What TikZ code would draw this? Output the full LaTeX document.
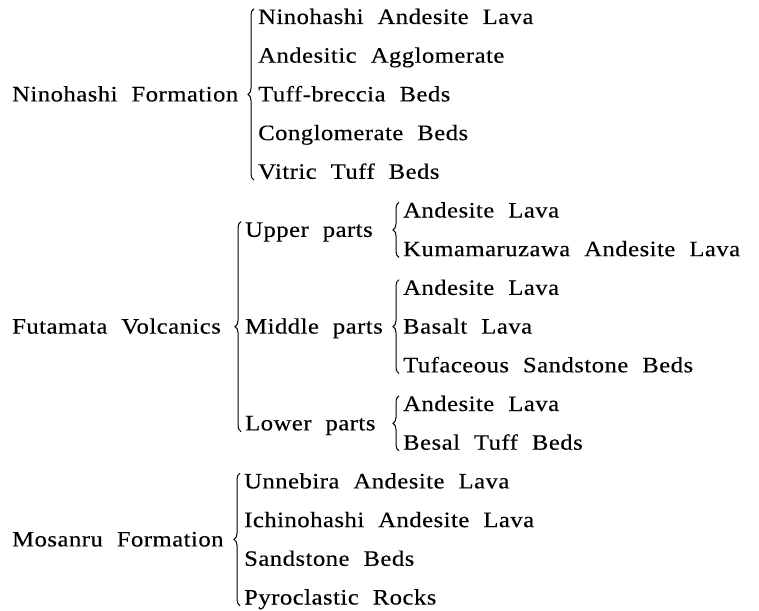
\documentclass[tikz,border=0pt]{standalone}
\usepackage{fontspec}
\setmainfont{Liberation Serif}[FakeStretch=1.12,FakeBold=0.3,LetterSpace=2.3,WordSpace=2.1]
\usetikzlibrary{decorations.pathreplacing, positioning}
\tikzset{item/.style={anchor=west, inner sep=0pt, text height=15pt, text depth=1pt, font=\fontsize{22pt}{25pt}\selectfont},
brc/.style={decorate, decoration={brace, amplitude=6pt}, line width=1pt}}

\begin{document}
\begin{tikzpicture}[x=1pt, y=-1pt, node distance=38.7pt]
\useasboundingbox (0,0) rectangle (759,610);
\node[item] (nf) at (12,94.4) {Ninohashi Formation};
\node[item] (n1) at (258,17) {Ninohashi Andesite Lava};
\node[item, below=of n1.west, anchor=west] (n2) {Andesitic Agglomerate};
\node[item, below=of n2.west, anchor=west] (n3) {Tuff-breccia Beds};
\node[item, below=of n3.west, anchor=west] (n4) {Conglomerate Beds};
\node[item, below=of n4.west, anchor=west] (n5) {Vitric Tuff Beds};
\node[item] (ff) at (12,326.6) {Futamata Volcanics};
\node[item] (up) at (245,229.85) {Upper parts};
\node[item] (mp) at (245,326.6) {Middle parts};
\node[item] (lp) at (245,423.35) {Lower parts};
\node[item] (ua1) at (403,210.5) {Andesite Lava};
\node[item, below=of ua1.west, anchor=west] (ua2) {Kumamaruzawa Andesite Lava};
\node[item, below=of ua2.west, anchor=west] (ma1) {Andesite Lava};
\node[item, below=of ma1.west, anchor=west] (ma2) {Basalt Lava};
\node[item, below=of ma2.west, anchor=west] (ma3) {Tufaceous Sandstone Beds};
\node[item, below=of ma3.west, anchor=west] (la1) {Andesite Lava};
\node[item, below=of la1.west, anchor=west] (la2) {Besal Tuff Beds};
\node[item] (mf) at (12,539.45) {Mosanru Formation};
\node[item] (m1) at (244,481.4) {Unnebira Andesite Lava};
\node[item, below=of m1.west, anchor=west] (m2) {Ichinohashi Andesite Lava};
\node[item, below=of m2.west, anchor=west] (m3) {Sandstone Beds};
\node[item, below=of m3.west, anchor=west] (m4) {Pyroclastic Rocks};
\draw[brc] ([xshift=-4pt]n5.south west) -- ([xshift=-4pt]n1.north west);
\draw[brc] ([xshift=-4pt]lp.south west) -- ([xshift=-4pt]up.north west);
\draw[brc] ([xshift=-4pt]ua2.south west) -- ([xshift=-4pt]ua1.north west);
\draw[brc] ([xshift=-4pt]ma3.south west) -- ([xshift=-4pt]ma1.north west);
\draw[brc] ([xshift=-4pt]la2.south west) -- ([xshift=-4pt]la1.north west);
\draw[brc] ([xshift=-4pt]m4.south west) -- ([xshift=-4pt]m1.north west);
\end{tikzpicture}
\end{document}
